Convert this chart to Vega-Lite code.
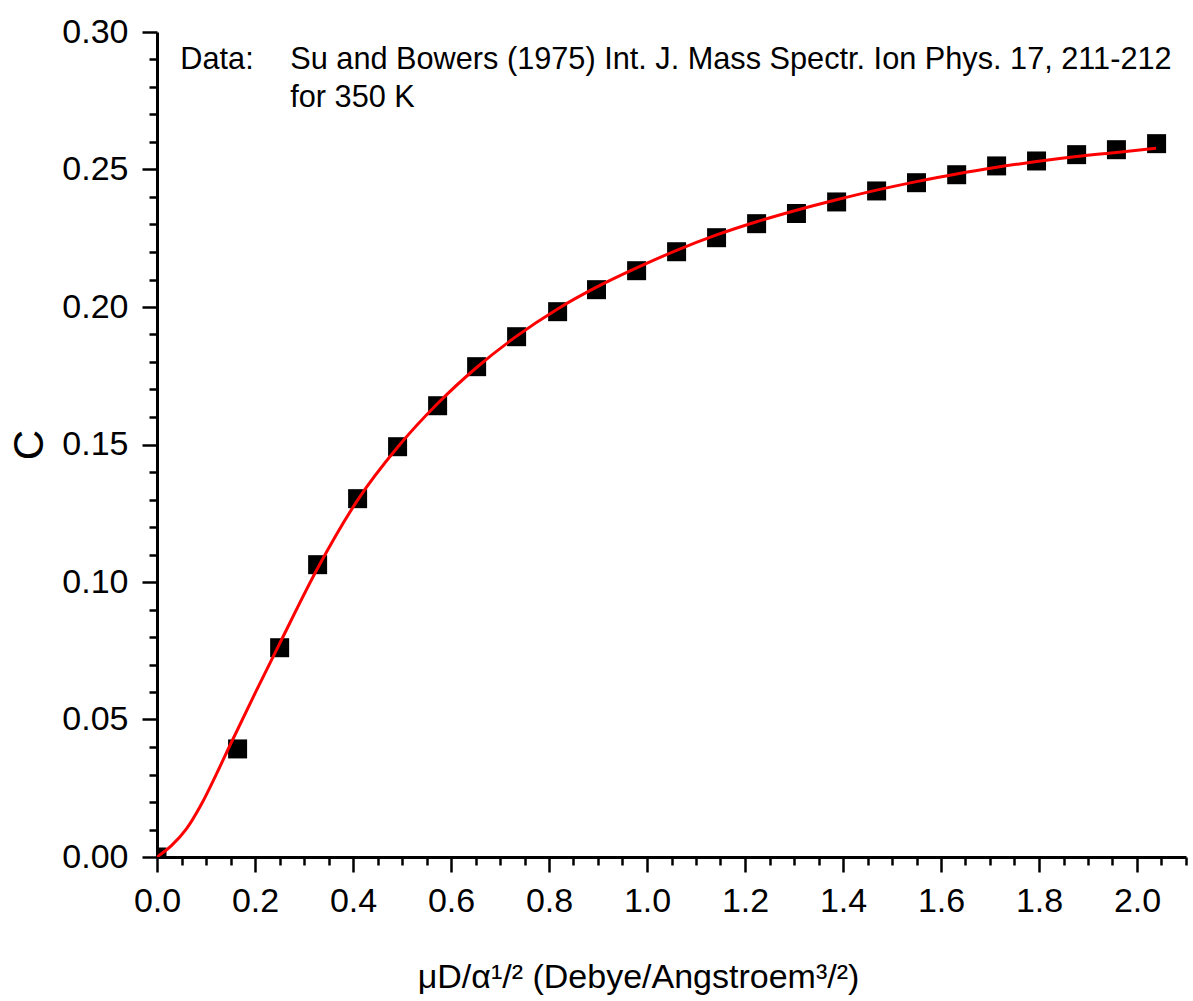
{
  "$schema": "https://vega.github.io/schema/vega-lite/v6.json",
  "width": 1029,
  "height": 825,
  "autosize": "none",
  "padding": {"left": 157, "top": 32, "right": 7, "bottom": 144},
  "background": "white",
  "config": {
    "view": {"stroke": null},
    "font": "Liberation Sans",
    "axis": {
      "grid": false,
      "domainColor": "black",
      "domainWidth": 3,
      "tickColor": "black",
      "tickWidth": 2.5,
      "labelColor": "black",
      "labelFont": "Liberation Sans",
      "titleFont": "Liberation Sans",
      "titleColor": "black",
      "titleFontWeight": "normal",
      "labelOverlap": false,
      "labelFlush": false,
      "labelBound": false
    }
  },
  "datasets": {
    "points": [
      {"x": 0, "y": 0},
      {"x": 0.1645, "y": 0.0393},
      {"x": 0.2503, "y": 0.0761},
      {"x": 0.3278, "y": 0.1063},
      {"x": 0.4094, "y": 0.1303},
      {"x": 0.491, "y": 0.1492},
      {"x": 0.5727, "y": 0.1641},
      {"x": 0.6523, "y": 0.1783},
      {"x": 0.7339, "y": 0.1892},
      {"x": 0.8176, "y": 0.1983},
      {"x": 0.897, "y": 0.2063},
      {"x": 0.9788, "y": 0.2132},
      {"x": 1.0604, "y": 0.2201},
      {"x": 1.142, "y": 0.2252},
      {"x": 1.2237, "y": 0.2303},
      {"x": 1.305, "y": 0.234},
      {"x": 1.387, "y": 0.2382},
      {"x": 1.4686, "y": 0.2422},
      {"x": 1.55, "y": 0.2452},
      {"x": 1.632, "y": 0.2481},
      {"x": 1.7135, "y": 0.2513},
      {"x": 1.795, "y": 0.2531},
      {"x": 1.8768, "y": 0.2554},
      {"x": 1.958, "y": 0.2572},
      {"x": 2.04, "y": 0.2594}
    ],
    "curve": [
      {"x": 0, "y": 0},
      {"x": 0.03, "y": 0.0042},
      {"x": 0.06, "y": 0.0102},
      {"x": 0.09, "y": 0.019},
      {"x": 0.12, "y": 0.0297},
      {"x": 0.15, "y": 0.041},
      {"x": 0.2, "y": 0.0595},
      {"x": 0.25, "y": 0.0775},
      {"x": 0.3278, "y": 0.105},
      {"x": 0.4094, "y": 0.1298},
      {"x": 0.491, "y": 0.149},
      {"x": 0.5727, "y": 0.1649},
      {"x": 0.6523, "y": 0.178},
      {"x": 0.7339, "y": 0.1894},
      {"x": 0.8176, "y": 0.1993},
      {"x": 0.897, "y": 0.2072},
      {"x": 0.9788, "y": 0.2142},
      {"x": 1.0604, "y": 0.2206},
      {"x": 1.142, "y": 0.2262},
      {"x": 1.2237, "y": 0.231},
      {"x": 1.305, "y": 0.2352},
      {"x": 1.387, "y": 0.239},
      {"x": 1.4686, "y": 0.2425},
      {"x": 1.55, "y": 0.2456},
      {"x": 1.632, "y": 0.2484},
      {"x": 1.7135, "y": 0.2508},
      {"x": 1.795, "y": 0.2529},
      {"x": 1.8768, "y": 0.2547},
      {"x": 1.958, "y": 0.2562},
      {"x": 2.039, "y": 0.2577}
    ]
  },
  "layer": [
    {
      "data": {"name": "points"},
      "mark": {"type": "point", "shape": "square", "filled": true, "color": "black", "opacity": 1, "size": 361, "clip": true},
      "encoding": {
        "x": {
          "field": "x", "type": "quantitative",
          "scale": {"domain": [0, 2.1], "nice": false, "zero": false},
          "axis": {
            "title": "μD/α¹/² (Debye/Angstroem³/²)",
            "titleFontSize": 34,
            "titlePadding": 42,
            "titleAnchor": "middle",
            "titleX": 481,
            "tickCount": 200,
            "values": [0,0.05,0.1,0.15,0.2,0.25,0.3,0.35,0.4,0.45,0.5,0.55,0.6,0.65,0.7,0.75,0.8,0.85,0.9,0.95,1,1.05,1.1,1.15,1.2,1.25,1.3,1.35,1.4,1.45,1.5,1.55,1.6,1.65,1.7,1.75,1.8,1.85,1.9,1.95,2,2.05,2.1],
            "labelExpr": "abs(datum.value*5 - round(datum.value*5)) < 0.01 ? format(datum.value, '.1f') : ''",
            "labelFontSize": {"condition": {"test": "abs(datum.value*5 - round(datum.value*5)) < 0.01", "value": 34}, "value": 1},
            "tickSize": {"condition": {"test": "abs(datum.value*5 - round(datum.value*5)) < 0.01", "value": 15}, "value": 8},
            "labelPadding": 12,
            "labelOverlap": false
          }
        },
        "y": {
          "field": "y", "type": "quantitative",
          "scale": {"domain": [0, 0.3], "nice": false, "zero": false},
          "axis": {
            "title": "C",
            "titleFontSize": 42,
            "titlePadding": 10,
            "tickCount": 200,
            "values": [0,0.01,0.02,0.03,0.04,0.05,0.06,0.07,0.08,0.09,0.1,0.11,0.12,0.13,0.14,0.15,0.16,0.17,0.18,0.19,0.2,0.21,0.22,0.23,0.24,0.25,0.26,0.27,0.28,0.29,0.3],
            "labelExpr": "abs(datum.value*20 - round(datum.value*20)) < 0.01 ? format(datum.value, '.2f') : ''",
            "labelFontSize": {"condition": {"test": "abs(datum.value*20 - round(datum.value*20)) < 0.01", "value": 34}, "value": 1},
            "tickSize": {"condition": {"test": "abs(datum.value*20 - round(datum.value*20)) < 0.01", "value": 15}, "value": 8},
            "labelPadding": 14,
            "labelOverlap": false
          }
        }
      }
    },
    {
      "data": {"name": "curve"},
      "mark": {"type": "line", "color": "#ff0000", "strokeWidth": 3, "interpolate": "monotone", "clip": true},
      "encoding": {
        "x": {"field": "x", "type": "quantitative"},
        "y": {"field": "y", "type": "quantitative"}
      }
    },
    {
      "data": {"values": [{"note": "Data:"}]},
      "mark": {"type": "text", "align": "left", "baseline": "alphabetic", "fontSize": 30.7, "font": "Liberation Sans", "color": "black"},
      "encoding": {
        "x": {"datum": 0.0476, "type": "quantitative"},
        "y": {"datum": 0.2865, "type": "quantitative"},
        "text": {"field": "note"}
      }
    },
    {
      "data": {"values": [{"note": "Su and Bowers (1975) Int. J. Mass Spectr. Ion Phys. 17, 211-212\nfor 350 K"}]},
      "mark": {"type": "text", "align": "left", "baseline": "alphabetic", "fontSize": 30.7, "font": "Liberation Sans", "color": "black", "lineBreak": "\n", "lineHeight": 37.5},
      "encoding": {
        "x": {"datum": 0.272, "type": "quantitative"},
        "y": {"datum": 0.2865, "type": "quantitative"},
        "text": {"field": "note"}
      }
    }
  ]
}
